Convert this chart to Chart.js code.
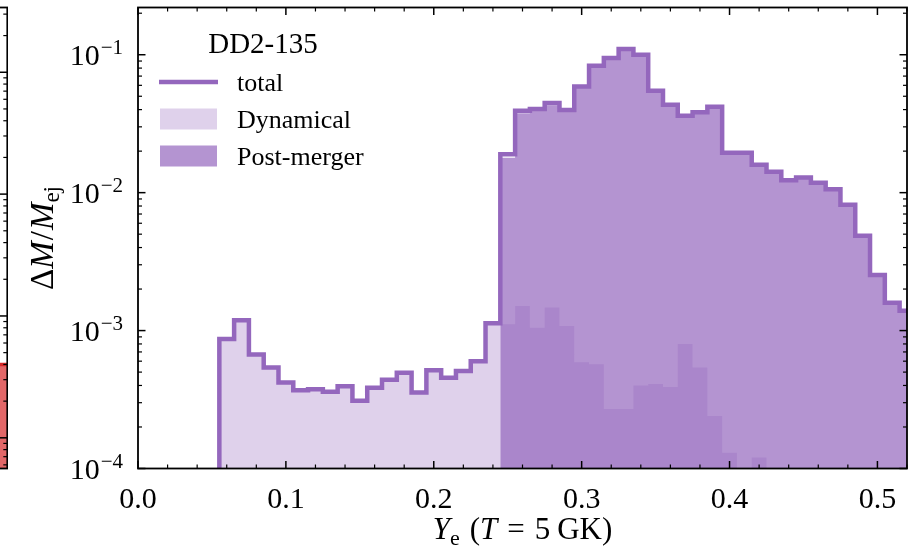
<!DOCTYPE html>
<html>
<head>
<meta charset="utf-8">
<title>DD2-135 Ye distribution</title>
<script src="https://cdn.jsdelivr.net/npm/chart.js@4.4.0/dist/chart.umd.min.js"></script>
<style>
    html, body { margin: 0; padding: 0; background: #fff; }
    #wrap { position: relative; width: 913px; height: 550px; overflow: hidden; }
    #main-chart { position: absolute; left: 0; top: 0; }
    #side-chart { position: absolute; left: -792px; top: 0; }
</style>
</head>
<body>
<div id="wrap">
    <canvas id="side-chart" width="800" height="550"></canvas>
    <canvas id="main-chart" width="913" height="550"></canvas>
</div>
<script>
// Ye histogram (bin width 0.01), mass fraction per bin
const BIN_WIDTH = 0.01;
const Y_MIN = 1e-4;
const Y_MAX = 0.22;

const binCenters = [
    0.06, 0.07, 0.08, 0.09, 0.10, 0.11, 0.12, 0.13, 0.14, 0.15,
    0.16, 0.17, 0.18, 0.19, 0.20, 0.21, 0.22, 0.23, 0.24, 0.25,
    0.26, 0.27, 0.28, 0.29, 0.30, 0.31, 0.32, 0.33, 0.34, 0.35,
    0.36, 0.37, 0.38, 0.39, 0.40, 0.41, 0.42, 0.43, 0.44, 0.45,
    0.46, 0.47, 0.48, 0.49, 0.50, 0.51, 0.52
];

const totalMass = [
    8.7e-4, 1.19e-3, 6.7e-4, 5.4e-4, 4.2e-4, 3.7e-4, 3.75e-4, 3.6e-4, 3.95e-4, 3.1e-4,
    3.85e-4, 4.4e-4, 4.95e-4, 3.55e-4, 5.15e-4, 4.55e-4, 5.1e-4, 6.0e-4, 1.13e-3, 1.90e-2,
    3.92e-2, 4.04e-2, 4.46e-2, 3.97e-2, 5.89e-2, 8.32e-2, 9.46e-2, 1.10e-1, 1.00e-1, 5.48e-2,
    4.34e-2, 3.61e-2, 3.83e-2, 4.20e-2, 1.95e-2, 1.95e-2, 1.59e-2, 1.42e-2, 1.23e-2, 1.29e-2,
    1.18e-2, 1.06e-2, 8.16e-3, 4.86e-3, 2.53e-3, 1.59e-3, 1.39e-3
];

const dynamicalMass = [
    8.7e-4, 1.19e-3, 6.7e-4, 5.4e-4, 4.2e-4, 3.7e-4, 3.75e-4, 3.6e-4, 3.95e-4, 3.1e-4,
    3.85e-4, 4.4e-4, 4.95e-4, 3.55e-4, 5.15e-4, 4.55e-4, 5.1e-4, 6.0e-4, 1.13e-3, 1.11e-3,
    1.51e-3, 1.05e-3, 1.47e-3, 1.08e-3, 5.9e-4, 5.7e-4, 2.7e-4, 2.7e-4, 4.0e-4, 4.1e-4,
    3.9e-4, 8.0e-4, 5.4e-4, 2.4e-4, 1.3e-4, 0, 1.2e-4, 0, 0, 0,
    0, 0, 0, 0, 0, 0, 0
];

const postMergerMass = [
    0, 0, 0, 0, 0, 0, 0, 0, 0, 0,
    0, 0, 0, 0, 0, 0, 0, 0, 0, 1.79e-2,
    3.77e-2, 3.94e-2, 4.31e-2, 3.86e-2, 5.83e-2, 8.26e-2, 9.43e-2, 1.097e-1, 9.96e-2, 5.44e-2,
    4.30e-2, 3.53e-2, 3.78e-2, 4.18e-2, 1.94e-2, 1.95e-2, 1.59e-2, 1.42e-2, 1.23e-2, 1.29e-2,
    1.18e-2, 1.06e-2, 8.16e-3, 4.86e-3, 2.53e-3, 1.59e-3, 1.39e-3
];

const xTickValues = [0, 0.1, 0.2, 0.3, 0.4, 0.5];
const xTickLabels = ['0.0', '0.1', '0.2', '0.3', '0.4', '0.5'];
const yTickValues = [1e-4, 1e-3, 1e-2, 1e-1];
const yTickExponents = ['\u22124', '\u22123', '\u22122', '\u22121'];

const legendTitle = 'DD2-135';

// neighbouring panel, only its right edge is on screen
const sideBinCenters = [0.51, 0.52];
const sideMass = [4.0e-4, 4.0e-4];
const SIDE_Y_MIN = 5.6e-5;
const SIDE_Y_MAX = 0.34;

const PURPLE = '#9467bd';
const SERIF = '"Liberation Serif", "Times New Roman", serif';

// Turn histogram bins into step points (left edges + closing right edge)
function stepPoints(centers, values, floor) {
    const pts = [];
    let started = false;
    values.forEach((v, i) => {
        const left = centers[i] - BIN_WIDTH / 2;
        if (!started) {
            if (!(v > 0)) return;
            pts.push({x: left, y: floor});
            started = true;
        }
        pts.push({x: left, y: v > 0 ? v : floor});
    });
    const last = values.length - 1;
    pts.push({x: centers[last] + BIN_WIDTH / 2, y: values[last] > 0 ? values[last] : floor});
    return pts;
}

function line(ctx, x1, y1, x2, y2, w) {
    ctx.lineWidth = w;
    ctx.beginPath();
    ctx.moveTo(x1, y1);
    ctx.lineTo(x2, y2);
    ctx.stroke();
}

function minorLogValues(min, max) {
    const out = [];
    for (let e = -6; e <= 1; e++) {
        for (let m = 2; m <= 9; m++) {
            const v = m * Math.pow(10, e);
            if (v >= min && v <= max) out.push(v);
        }
    }
    return out;
}

// Draw a run of text pieces (font / vertical shift / extra gap) centred on x
function drawRich(ctx, pieces, x, y) {
    let width = 0;
    pieces.forEach(p => {
        ctx.font = p.font;
        p.w = ctx.measureText(p.text).width + (p.gap || 0);
        width += p.w;
    });
    let cx = x - width / 2;
    ctx.textAlign = 'left';
    ctx.textBaseline = 'alphabetic';
    pieces.forEach(p => {
        ctx.font = p.font;
        ctx.fillText(p.text, cx, y + (p.dy || 0));
        cx += p.w;
    });
}

// Inward ticks on all four sides, frame, tick labels and axis titles
const mainAxes = {
    id: 'mainAxes',
    afterDatasetsDraw(chart) {
        const {ctx, chartArea: a} = chart;
        const xs = chart.scales.x;
        const ys = chart.scales.y;
        ctx.save();
        ctx.strokeStyle = '#000';
        ctx.fillStyle = '#000';

        // x ticks
        for (let k = 0; k <= 26; k++) {
            const v = k * 0.02;
            if (k % 5 === 0) continue;
            const px = xs.getPixelForValue(v);
            line(ctx, px, a.bottom, px, a.bottom - 4, 1.2);
            line(ctx, px, a.top, px, a.top + 4, 1.2);
        }
        xTickValues.forEach(v => {
            const px = xs.getPixelForValue(v);
            line(ctx, px, a.bottom, px, a.bottom - 7.5, 1.5);
            line(ctx, px, a.top, px, a.top + 7.5, 1.5);
        });

        // y ticks
        minorLogValues(Y_MIN, Y_MAX).forEach(v => {
            const py = ys.getPixelForValue(v);
            line(ctx, a.left, py, a.left + 4, py, 1.2);
            line(ctx, a.right, py, a.right - 4, py, 1.2);
        });
        yTickValues.forEach(v => {
            const py = ys.getPixelForValue(v);
            line(ctx, a.left, py, a.left + 7.5, py, 1.5);
            line(ctx, a.right, py, a.right - 7.5, py, 1.5);
        });

        // frame
        ctx.lineWidth = 1.8;
        ctx.strokeRect(a.left, a.top, a.right - a.left, a.bottom - a.top);

        // x tick labels
        ctx.font = '30px ' + SERIF;
        ctx.textAlign = 'center';
        ctx.textBaseline = 'alphabetic';
        xTickValues.forEach((v, i) => {
            ctx.fillText(xTickLabels[i], xs.getPixelForValue(v), a.bottom + 39);
        });

        // y tick labels: 10 with superscript exponent
        yTickValues.forEach((v, i) => {
            const py = ys.getPixelForValue(v);
            const right = a.left - 15;
            ctx.font = '21px ' + SERIF;
            const expW = ctx.measureText(yTickExponents[i]).width;
            ctx.textAlign = 'left';
            ctx.fillText(yTickExponents[i], right - expW, py - 1);
            ctx.font = '30px ' + SERIF;
            ctx.textAlign = 'right';
            ctx.fillText('10', right - expW - 1, py + 10.5);
        });

        // x title: Y_e (T = 5 GK)
        drawRich(ctx, [
            {text: 'Y', font: 'italic 31px ' + SERIF},
            {text: 'e', font: '22px ' + SERIF, dy: 6, gap: 10},
            {text: '(', font: '31px ' + SERIF},
            {text: 'T', font: 'italic 31px ' + SERIF, gap: 10},
            {text: '=', font: '31px ' + SERIF, gap: 10},
            {text: '5', font: '31px ' + SERIF, gap: 7},
            {text: 'GK)', font: '31px ' + SERIF}
        ], (a.left + a.right) / 2, 539);

        // y title: ΔM/M_ej
        ctx.save();
        ctx.translate(53, (a.top + a.bottom) / 2);
        ctx.rotate(-Math.PI / 2);
        drawRich(ctx, [
            {text: '\u0394', font: '33px ' + SERIF},
            {text: 'M', font: 'italic 33px ' + SERIF, gap: 1},
            {text: '/', font: '33px ' + SERIF, gap: 1},
            {text: 'M', font: 'italic 33px ' + SERIF},
            {text: 'ej', font: '23px ' + SERIF, dy: 6}
        ], 0, 0);
        ctx.restore();

        ctx.restore();
    }
};

// Legend box in the upper left of the plot
const legendBox = {
    id: 'legendBox',
    afterDraw(chart) {
        const ctx = chart.ctx;
        const [total, dynamical, postMerger] = chart.data.datasets;
        ctx.save();
        ctx.fillStyle = '#000';
        ctx.textBaseline = 'alphabetic';
        ctx.font = '29px ' + SERIF;
        ctx.textAlign = 'center';
        ctx.fillText(legendTitle, 263, 53);

        ctx.strokeStyle = total.borderColor;
        line(ctx, 159, 82, 218, 82, 4.5);

        ctx.fillStyle = dynamical.backgroundColor;
        ctx.fillRect(160, 108.5, 57, 21);
        ctx.fillStyle = postMerger.backgroundColor;
        ctx.fillRect(160, 145.5, 57, 21);

        ctx.fillStyle = '#000';
        ctx.font = '26px ' + SERIF;
        ctx.textAlign = 'left';
        ctx.fillText(total.label, 237, 91);
        ctx.fillText(dynamical.label, 237, 128);
        ctx.fillText(postMerger.label, 237, 165);
        ctx.restore();
    }
};

const mainChart = new Chart(document.getElementById('main-chart'), {
    type: 'line',
    data: {
        datasets: [{
            label: 'total',
            data: stepPoints(binCenters, totalMass, Y_MIN),
            stepped: true,
            borderColor: PURPLE,
            borderWidth: 4.5,
            borderJoinStyle: 'miter',
            fill: false,
            pointRadius: 0,
            clip: 0,
            order: 0
        }, {
            label: 'Dynamical',
            data: stepPoints(binCenters, dynamicalMass, Y_MIN),
            stepped: true,
            borderColor: 'rgba(0,0,0,0)',
            borderWidth: 0,
            backgroundColor: 'rgba(148, 103, 189, 0.3)',
            fill: 'start',
            pointRadius: 0,
            clip: 0,
            order: 2
        }, {
            label: 'Post-merger',
            data: stepPoints(binCenters, postMergerMass, Y_MIN),
            stepped: true,
            borderColor: 'rgba(0,0,0,0)',
            borderWidth: 0,
            backgroundColor: 'rgba(148, 103, 189, 0.7)',
            fill: 'start',
            pointRadius: 0,
            clip: 0,
            order: 1
        }]
    },
    options: {
        responsive: false,
        animation: false,
        events: [],
        layout: {
            padding: {left: 138, right: 6, top: 7.5, bottom: 81.5}
        },
        plugins: {
            legend: {display: false},
            tooltip: {enabled: false}
        },
        scales: {
            x: {type: 'linear', min: 0, max: 0.52, display: false},
            y: {type: 'logarithmic', min: Y_MIN, max: Y_MAX, display: false}
        }
    },
    plugins: [mainAxes, legendBox]
});

// Right edge of the neighbouring panel: frame and right-hand ticks
const sideAxes = {
    id: 'sideAxes',
    afterDatasetsDraw(chart) {
        const {ctx, chartArea: a} = chart;
        const ys = chart.scales.y;
        ctx.save();
        ctx.strokeStyle = '#000';
        minorLogValues(SIDE_Y_MIN, SIDE_Y_MAX).forEach(v => {
            const py = ys.getPixelForValue(v);
            line(ctx, a.right, py, a.right - 4, py, 1.2);
        });
        [1e-4, 1e-3, 1e-2, 1e-1].forEach(v => {
            const py = ys.getPixelForValue(v);
            line(ctx, a.right, py, a.right - 7.5, py, 1.5);
        });
        ctx.lineWidth = 1.8;
        ctx.strokeRect(a.left, a.top, a.right - a.left, a.bottom - a.top);
        ctx.restore();
    }
};

const sideChart = new Chart(document.getElementById('side-chart'), {
    type: 'line',
    data: {
        datasets: [{
            label: 'side',
            data: stepPoints(sideBinCenters, sideMass, SIDE_Y_MIN),
            stepped: true,
            borderColor: '#d62728',
            borderWidth: 3.5,
            backgroundColor: 'rgba(214, 39, 40, 0.7)',
            fill: 'start',
            pointRadius: 0,
            clip: 0
        }]
    },
    options: {
        responsive: false,
        animation: false,
        events: [],
        layout: {
            padding: {left: 30, right: 0.7, top: 7.5, bottom: 81.5}
        },
        plugins: {
            legend: {display: false},
            tooltip: {enabled: false}
        },
        scales: {
            x: {type: 'linear', min: 0, max: 0.52, display: false},
            y: {type: 'logarithmic', min: SIDE_Y_MIN, max: SIDE_Y_MAX, display: false}
        }
    },
    plugins: [sideAxes]
});
</script>
</body>
</html>
